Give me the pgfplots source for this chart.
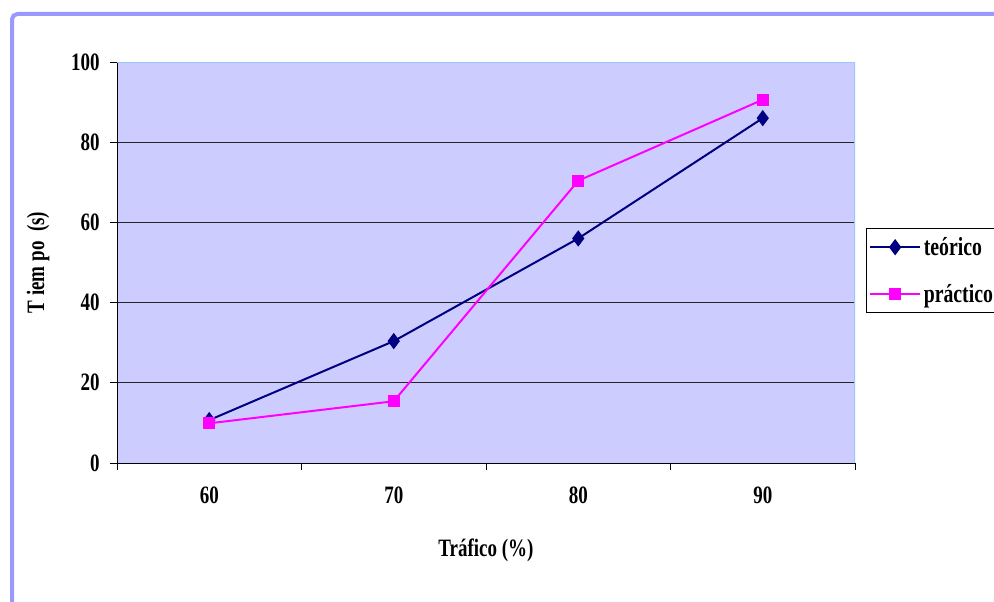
\documentclass[border=0pt]{standalone}
\usepackage{pgfplots}
\pgfplotsset{compat=1.18}
\usepackage{fontspec}
\setmainfont{Liberation Serif}[FakeStretch=0.76]
\definecolor{frameblue}{RGB}{153,153,255}
\definecolor{plotbg}{RGB}{204,204,255}
\definecolor{borderblue}{RGB}{150,200,255}
\definecolor{teo}{RGB}{0,0,128}
\definecolor{pra}{RGB}{255,0,255}
\begin{document}
\begin{tikzpicture}
\path[use as bounding box] (0,0) rectangle (745.5pt,450.75pt);
\draw[frameblue, line width=3pt, rounded corners=4pt] (9pt,-5pt) -- (9pt,440.25pt) -- (760pt,440.25pt);
\begin{axis}[
  at={(87.75pt,103.5pt)}, anchor=south west,
  width=553.5pt, height=300.75pt, scale only axis,
  xmin=-0.5, xmax=3.5, ymin=0, ymax=100,
  axis background/.style={fill=plotbg},
  axis line style={draw=none},
  xtick={0,1,2,3}, xticklabels={60,70,80,90},
  major x tick style={draw=none},
  minor xtick={-0.5,0.5,1.5,2.5,3.5},
  ytick={0,20,...,100},
  ymajorgrids, major grid style={black!85, line width=0.75pt},
  tick align=outside, tick pos=left,
  major tick length=5.25pt, minor tick length=5.25pt,
  every tick/.style={black, line width=0.75pt},
  font=\fontsize{18.75}{22}\selectfont\bfseries,
  /pgf/number format/assume math mode=true,
  yticklabel style={anchor=east, inner sep=0pt, xshift=-7.5pt},
  xticklabel style={anchor=north, inner sep=0pt, yshift=-12.75pt},
  xlabel={Tráfico (\%)},
  ylabel={T iem po\ \ (s)},
  xlabel style={at={(axis description cs:0.5,-0.217)}, anchor=center},
  ylabel style={at={(axis description cs:-0.107,0.5)}, anchor=center},
  legend style={at={(axis description cs:1.0149,0.586)}, anchor=north west,
    draw=black, line width=0.75pt, fill=white,
    font=\fontsize{19.5}{22}\selectfont\bfseries,
    inner xsep=2pt, inner ysep=4.5pt, row sep=16.25pt},
  legend cell align=left,
  legend image code/.code={\draw[mark repeat=2,mark phase=2,#1] plot coordinates {(0pt,0pt) (18.75pt,0pt) (37.5pt,0pt)};},
]
\addplot[teo, line width=1.5pt, mark=diamond*, mark size=4.9pt, mark options={solid, fill=teo}]
  coordinates {(0,10.7) (1,30.4) (2,56.0) (3,86.0)};
\addlegendentry{teórico}
\addplot[pra, line width=1.5pt, mark=square*, mark size=3.8pt, mark options={solid, fill=pra}]
  coordinates {(0,9.9) (1,15.4) (2,70.4) (3,90.6)};
\addlegendentry{práctico}
\draw[black, line width=0.75pt] (rel axis cs:0,1) -- (rel axis cs:0,0) -- (rel axis cs:1,0);
\draw[borderblue, line width=1pt] (rel axis cs:0,1) -- (rel axis cs:1,1) -- (rel axis cs:1,0);
\end{axis}
\end{tikzpicture}
\end{document}
